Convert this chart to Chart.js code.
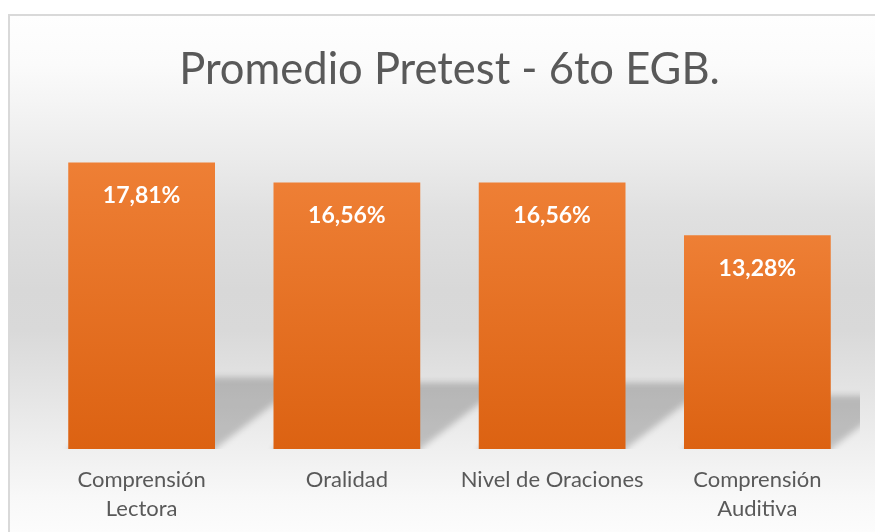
<!DOCTYPE html>
<html>
<head>
<meta charset="utf-8">
<script src="https://cdn.jsdelivr.net/npm/chart.js@4/dist/chart.umd.min.js"></script>
<style>
html,body{margin:0;padding:0;background:#fff;}
#wrap{width:875px;height:532px;}
</style>
</head>
<body>
<div id="wrap"><canvas id="c" width="875" height="532"></canvas></div>
<script>
const titleText = "Promedio Pretest - 6to EGB.";
const categories = [["Comprensión", "Lectora"], "Oralidad", "Nivel de Oraciones", ["Comprensión", "Auditiva"]];
const values = [17.81, 16.56, 16.56, 13.28];
const valueLabels = ["17,81%", "16,56%", "16,56%", "13,28%"];

const bgPlugin = {
  id: 'bg',
  beforeDraw(chart) {
    const ctx = chart.ctx;
    ctx.save();
    ctx.fillStyle = '#ffffff';
    ctx.fillRect(0, 0, chart.width, chart.height);
    const g = ctx.createLinearGradient(0, 15, 0, 532);
    const stops = [[15,'#fefefe'],[64,'#fbfbfb'],[164,'#eaeaea'],[214,'#e0e0e0'],[290,'#d8d8d8'],[330,'#d9d9d9'],[380,'#e2e2e2'],[447,'#efefef'],[497,'#f8f8f8'],[532,'#fcfcfc']];
    stops.forEach(s => g.addColorStop((s[0]-15)/(532-15), s[1]));
    ctx.fillStyle = g;
    ctx.fillRect(9, 15, chart.width, chart.height);
    ctx.strokeStyle = '#d9d9d9';
    ctx.lineWidth = 2;
    ctx.beginPath();
    ctx.moveTo(9, chart.height + 5);
    ctx.lineTo(9, 15);
    ctx.lineTo(chart.width + 5, 15);
    ctx.stroke();
    ctx.restore();
  }
};

const shadowPlugin = {
  id: 'barShadow',
  beforeDatasetsDraw(chart) {
    const ctx = chart.ctx;
    const area = chart.chartArea;
    const meta = chart.getDatasetMeta(0);
    ctx.save();
    ctx.beginPath();
    ctx.rect(area.left, area.top, area.right - area.left, area.bottom - area.top);
    ctx.clip();
    ctx.filter = 'blur(3px)';
    ctx.fillStyle = 'rgba(0,0,0,0.2)';
    meta.data.forEach(el => {
      const p = el.getProps(['x','y','base','width'], true);
      const h = p.base - p.y;
      const sh = h * 0.25;
      const skew = sh * 1.3;
      const l = p.x - p.width/2, r = p.x + p.width/2;
      ctx.beginPath();
      ctx.moveTo(l, p.base + 6);
      ctx.lineTo(r, p.base + 6);
      ctx.lineTo(r, p.base);
      ctx.lineTo(r + skew, p.base - sh);
      ctx.lineTo(l + skew, p.base - sh);
      ctx.lineTo(l, p.base);
      ctx.closePath();
      ctx.fill();
    });
    ctx.restore();
  }
};

const labelPlugin = {
  id: 'valLabels',
  afterDatasetsDraw(chart) {
    const ctx = chart.ctx;
    const meta = chart.getDatasetMeta(0);
    ctx.save();
    ctx.fillStyle = '#ffffff';
    ctx.font = 'bold 23px Lato';
    ctx.textAlign = 'center';
    ctx.textBaseline = 'middle';
    meta.data.forEach((el, i) => {
      const p = el.getProps(['x','y'], true);
      ctx.fillText(valueLabels[i], p.x, p.y + 33);
    });
    ctx.restore();
  }
};

function barGradient(context) {
  const chart = context.chart;
  if (!chart.chartArea) return '#e6702a';
  const ys = chart.scales.y;
  const top = ys.getPixelForValue(context.raw);
  const base = ys.getPixelForValue(0);
  const g = chart.ctx.createLinearGradient(0, top, 0, base);
  g.addColorStop(0, '#ee7f35');
  g.addColorStop(1, '#dc6212');
  return g;
}

new Chart(document.getElementById('c'), {
  type: 'bar',
  data: {
    labels: categories,
    datasets: [{
      data: values,
      backgroundColor: barGradient,
      borderWidth: 0,
      barPercentage: 0.715,
      categoryPercentage: 1.0
    }]
  },
  options: {
    responsive: false,
    devicePixelRatio: 1,
    animation: false,
    layout: { padding: { left: 39, right: 15, top: 0, bottom: 0 } },
    plugins: {
      legend: { display: false },
      tooltip: { enabled: false },
      title: {
        display: true,
        text: titleText,
        color: '#595959',
        font: { family: 'Lato', size: 43.5, weight: 'normal', lineHeight: 1.2 },
        padding: { top: 44, bottom: 31 }
      }
    },
    scales: {
      x: {
        grid: { display: false, drawTicks: false },
        border: { display: false },
        afterFit(scale) { scale.height = 83; },
        ticks: {
          color: '#595959',
          font: { family: 'Lato', size: 22, lineHeight: 1.3 },
          padding: 17,
          maxRotation: 0,
          autoSkip: false
        }
      },
      y: {
        display: false,
        min: 0,
        max: 20
      }
    }
  },
  plugins: [bgPlugin, shadowPlugin, labelPlugin]
});
</script>
</body>
</html>
